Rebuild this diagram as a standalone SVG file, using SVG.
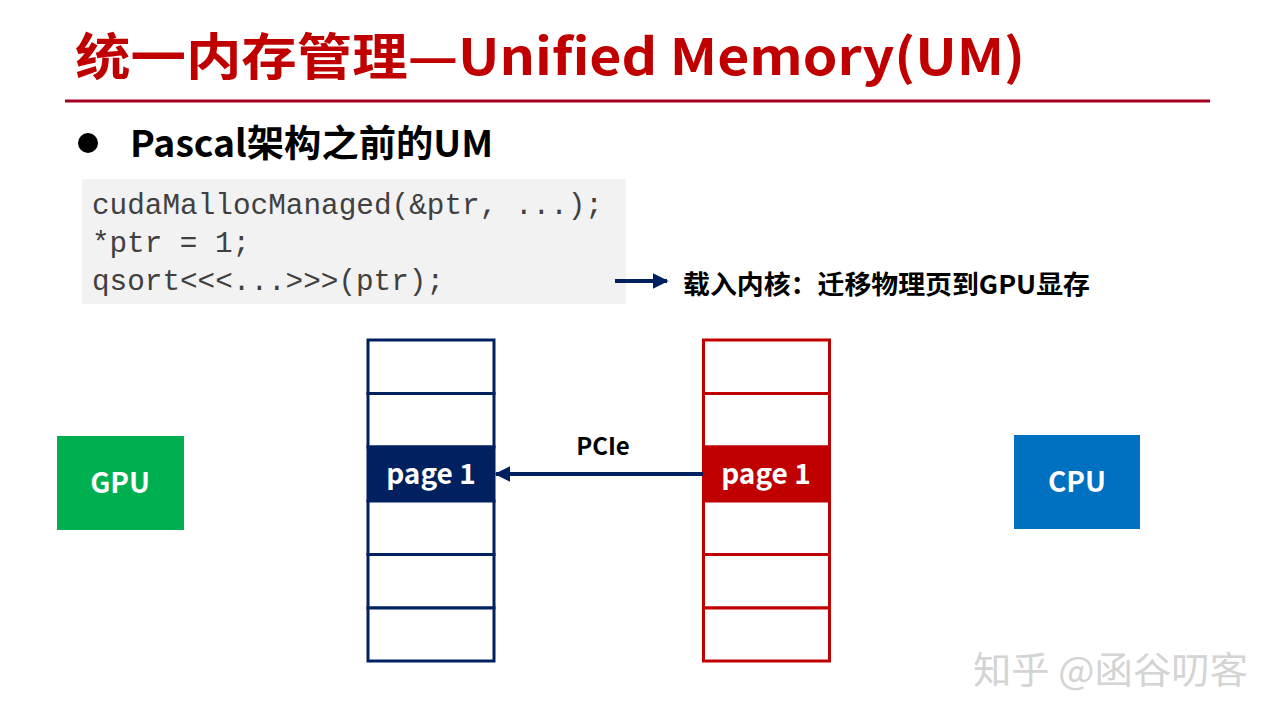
<svg xmlns="http://www.w3.org/2000/svg" width="1280" height="720" viewBox="0 0 1280 720">
<defs>
<style>
.cjk{font-family:"Noto Sans CJK SC","Noto Sans",sans-serif;font-weight:bold}
.title{fill:#C00000;font-size:50px}
.code{font-family:"Liberation Mono","DejaVu Sans Mono",monospace;font-size:29px;fill:#404040}
.wt{fill:#FFFFFF;font-size:28px;text-anchor:middle}
.cellB{fill:#FFFFFF;stroke:#002060;stroke-width:3}
.cellR{fill:#FFFFFF;stroke:#C00000;stroke-width:3}
</style>
<marker id="ah" viewBox="0 0 10 10" refX="9" refY="5" markerWidth="4" markerHeight="4" orient="auto" markerUnits="strokeWidth">
<path d="M0,0 L10,5 L0,10 z" fill="#002060"/>
</marker>
</defs>
<rect width="1280" height="720" fill="#FFFFFF"/>
<g id="title">
<text class="cjk title" x="75" y="75" textLength="950" lengthAdjust="spacingAndGlyphs">统一内存管理—Unified Memory(UM)</text>
<line x1="65" y1="101" x2="1210" y2="101" stroke="#A50021" stroke-width="3"/>
</g>
<g id="bullet">
<circle cx="88" cy="143" r="10" fill="#000000"/>
<text class="cjk" x="130" y="157" font-size="37" fill="#000000" textLength="363" lengthAdjust="spacingAndGlyphs">Pascal架构之前的UM</text>
</g>
<g id="code">
<rect x="82" y="179" width="544" height="125" fill="#F2F2F2"/>
<text class="code" x="92" y="214" textLength="511" lengthAdjust="spacingAndGlyphs">cudaMallocManaged(&amp;ptr, ...);</text>
<text class="code" x="92" y="252" textLength="158" lengthAdjust="spacingAndGlyphs">*ptr = 1;</text>
<text class="code" x="92" y="290" textLength="352" lengthAdjust="spacingAndGlyphs">qsort&lt;&lt;&lt;...&gt;&gt;&gt;(ptr);</text>
</g>
<g id="note">
<text class="cjk" x="683" y="294" font-size="26" fill="#000000" textLength="407" lengthAdjust="spacingAndGlyphs">载入内核：迁移物理页到GPU显存</text>
</g>
<g id="gpu-mem">
<rect class="cellB" x="368" y="340" width="126" height="53.5"/>
<rect class="cellB" x="368" y="393.5" width="126" height="53.5"/>
<rect x="368" y="447" width="126" height="54" fill="#002060" stroke="#002060" stroke-width="3"/>
<rect class="cellB" x="368" y="501" width="126" height="53.5"/>
<rect class="cellB" x="368" y="554.5" width="126" height="53.5"/>
<rect class="cellB" x="368" y="608" width="126" height="53"/>
<text class="cjk wt" x="431" y="484">page 1</text>
</g>
<g id="cpu-mem">
<rect class="cellR" x="703.5" y="340" width="126" height="53.5"/>
<rect class="cellR" x="703.5" y="393.5" width="126" height="53.5"/>
<rect x="703.5" y="447" width="126" height="54" fill="#C00000" stroke="#C00000" stroke-width="3"/>
<rect class="cellR" x="703.5" y="501" width="126" height="53.5"/>
<rect class="cellR" x="703.5" y="554.5" width="126" height="53.5"/>
<rect class="cellR" x="703.5" y="608" width="126" height="53"/>
<text class="cjk wt" x="766" y="484">page 1</text>
</g>
<g id="gpu">
<rect x="57" y="436" width="127" height="94" fill="#00B050"/>
<text class="cjk wt" x="120" y="493">GPU</text>
</g>
<g id="cpu">
<rect x="1014" y="435" width="126" height="94" fill="#0070C0"/>
<text class="cjk wt" x="1077" y="492">CPU</text>
</g>
<g id="connectors">
<line x1="615" y1="281" x2="667" y2="281" stroke="#002060" stroke-width="4" marker-end="url(#ah)"/>
<line x1="703" y1="474" x2="496" y2="474" stroke="#002060" stroke-width="4" marker-end="url(#ah)"/>
<text class="cjk" x="603" y="455" font-size="24" fill="#000000" text-anchor="middle">PCIe</text>
</g>
<g id="watermark">
<text x="973" y="684" font-family="Noto Sans CJK SC, sans-serif" font-size="37" fill="#D4D4D4" textLength="275" lengthAdjust="spacingAndGlyphs">知乎 @函谷叨客</text>
</g>
</svg>
